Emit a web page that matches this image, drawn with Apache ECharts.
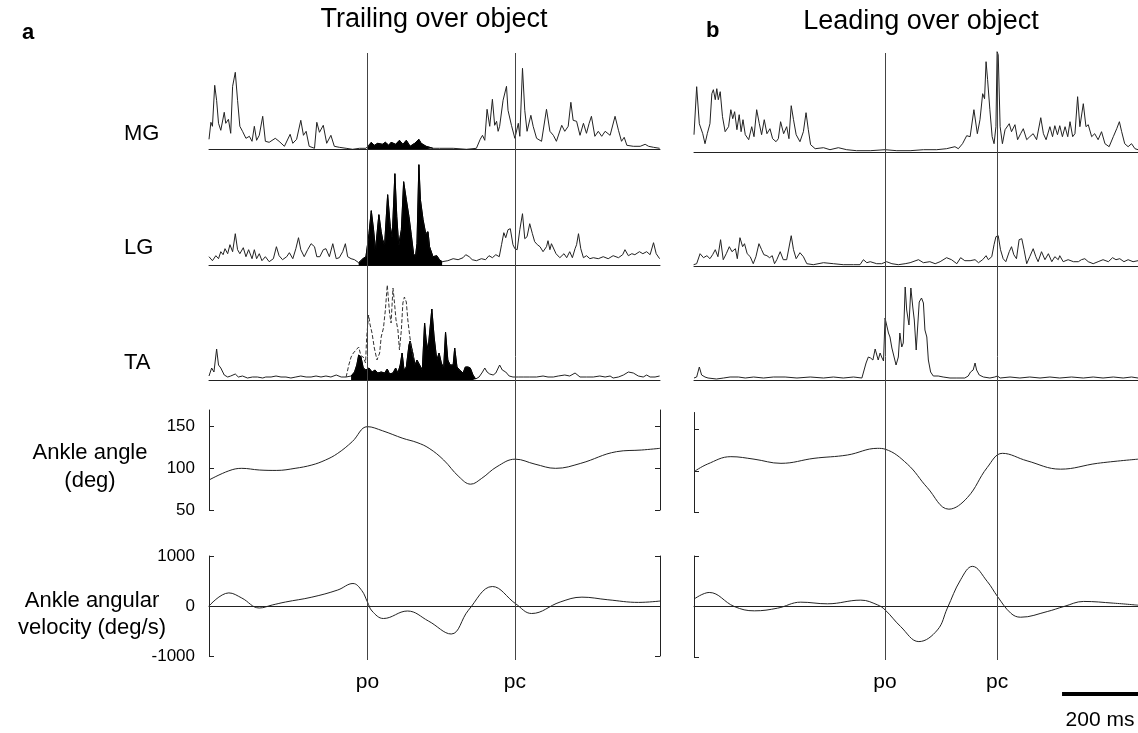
<!DOCTYPE html>
<html>
<head>
<meta charset="utf-8">
<script src="https://cdn.jsdelivr.net/npm/echarts@6/dist/echarts.min.js"></script>
<style>
  html, body { margin: 0; padding: 0; background: #fff; }
  #main { width: 1138px; height: 733px; }
</style>
</head>
<body>
<div id="main"></div>
<script>
// time axis: ms relative to push-off (po)
var trailRange = [-416, 768];
var leadRange = [-503, 666];
var trailEvents = [0, 387];
var leadEvents = [0, 295];
var eventNames = ['po', 'pc'];
var scaleBarMs = 200;

var angleTicks = [50, 100, 150];
var velTicks = [-1000, 0, 1000];

// shaded burst windows (ms) of the trailing leg
var mgTrailBurst = [0, 172];
var lgTrailBurst = [-23, 196];
var taTrailBurst = [-43, 284];

// rectified EMG, [ms, amplitude a.u.]
var mgTrail = [[-416,10],[-411,27],[-407,23],[-401,64],[-396,49],[-391,26],[-385,19],[-376,37],[-372,26],[-365,30],[-359,16],[-354,63],[-347,77],[-341,49],[-335,23],[-328,18],[-319,11],[-310,13],[-303,8],[-297,23],[-291,9],[-284,14],[-275,33],[-268,8],[-258,7],[-242,11],[-232,8],[-218,3],[-203,15],[-196,6],[-186,10],[-175,29],[-168,14],[-161,18],[-153,3],[-139,1],[-133,27],[-126,17],[-116,24],[-107,6],[-96,14],[-87,3],[-74,2],[-56,1],[-39,0],[-21,1],[-4,1],
  [1,2],[10,7],[18,4],[27,6],[39,5],[47,7],[56,4],[62,7],[74,5],[84,9],[93,5],[102,9],[112,3],[124,6],[135,10],[141,6],[154,3],[172,1],
  [189,1],[225,1],[260,0],[286,1],[296,10],[302,14],[308,9],[314,40],[321,23],[328,50],[334,24],[339,28],[343,18],[347,23],[356,49],[365,63],[369,39],[378,24],[387,11],[396,26],[400,13],[407,81],[413,39],[419,18],[429,34],[435,23],[444,11],[457,8],[470,40],[479,18],[488,14],[496,8],[510,24],[518,18],[527,23],[534,47],[540,29],[549,28],[558,14],[567,26],[575,16],[582,26],[588,33],[597,13],[606,18],[615,13],[624,18],[637,14],[650,33],[659,19],[667,8],[674,12],[681,4],[698,3],[716,3],[729,5],[738,3],[751,2],[767,1]];

var lgTrail = [[-416,9],[-407,5],[-398,10],[-391,7],[-385,14],[-379,11],[-374,17],[-367,12],[-361,21],[-354,14],[-347,32],[-341,16],[-335,12],[-326,18],[-319,9],[-312,16],[-303,7],[-297,16],[-291,7],[-284,12],[-277,5],[-268,9],[-258,4],[-247,7],[-239,19],[-232,10],[-223,6],[-212,9],[-205,13],[-196,7],[-188,17],[-181,28],[-175,16],[-166,9],[-157,16],[-148,22],[-139,19],[-133,9],[-125,9],[-116,16],[-109,17],[-100,9],[-91,22],[-82,7],[-74,8],[-65,14],[-58,22],[-52,9],[-43,7],[-34,6],
  [-23,3],[-12,7],[-4,9],[4,32],[10,55],[16,36],[21,16],[30,51],[36,34],[40,26],[45,21],[53,71],[60,39],[65,29],[72,92],[77,49],[82,21],[89,36],[95,84],[102,66],[109,49],[115,31],[121,12],[126,9],[130,22],[135,101],[139,66],[146,46],[153,32],[159,34],[163,19],[172,9],[182,10],[189,6],[196,4],
  [211,5],[225,7],[238,6],[251,8],[258,11],[267,9],[275,6],[286,5],[299,7],[310,6],[319,10],[328,8],[337,11],[346,9],[352,21],[358,33],[363,28],[369,36],[375,37],[382,21],[387,17],[393,16],[400,36],[407,52],[413,27],[419,29],[426,42],[433,32],[439,24],[446,21],[453,19],[461,14],[470,19],[474,25],[479,16],[483,22],[488,24],[495,12],[505,8],[516,12],[523,8],[531,14],[538,8],[545,17],[549,21],[554,32],[560,17],[567,8],[575,10],[584,7],[593,8],[606,7],[619,9],[632,7],[645,10],[659,8],[670,11],[676,16],[685,10],[694,12],[702,11],[714,14],[723,12],[733,14],[742,11],[751,23],[758,12],[767,7]];

var taTrail = [[-416,4],[-409,12],[-403,8],[-396,31],[-391,15],[-385,12],[-376,5],[-367,3],[-359,4],[-347,6],[-339,3],[-328,4],[-315,2],[-302,3],[-289,3],[-275,2],[-267,3],[-253,3],[-240,4],[-227,3],[-214,3],[-201,2],[-188,3],[-175,4],[-161,3],[-148,3],[-135,4],[-122,3],[-109,4],[-96,3],[-82,5],[-69,3],[-56,3],
  [-43,4],[-34,8],[-28,15],[-23,25],[-17,23],[-11,12],[-4,10],[4,12],[12,8],[20,10],[27,7],[36,8],[45,7],[52,11],[58,6],[67,7],[74,12],[80,7],[86,15],[91,27],[96,10],[102,13],[109,35],[112,39],[119,27],[125,15],[130,20],[137,15],[144,10],[150,57],[154,40],[159,30],[163,28],[169,71],[175,43],[182,20],[188,27],[194,17],[200,12],[205,48],[211,20],[217,15],[225,15],[229,32],[235,13],[242,10],[251,7],[257,13],[264,13],[270,12],[277,5],[284,1],
  [293,3],[302,8],[308,12],[314,8],[321,6],[330,5],[337,7],[347,15],[354,10],[363,8],[372,4],[382,3],[396,3],[409,3],[426,3],[444,3],[461,4],[474,3],[488,3],[501,4],[518,5],[531,4],[545,7],[558,3],[575,3],[593,3],[610,4],[624,3],[637,4],[645,2],[659,3],[672,5],[685,8],[698,7],[711,4],[724,3],[733,5],[742,3],[755,3],[767,4]];

// dashed TA trace (second condition) over the trailing burst
var taTrailDashed = [[-56,3],[-49,15],[-43,23],[-37,27],[-30,30],[-23,33],[-17,24],[-11,23],[-5,17],[-2,43],[3,65],[7,55],[12,47],[18,32],[25,20],[32,27],[36,43],[42,52],[47,70],[52,95],[58,67],[62,57],[67,92],[71,77],[75,60],[80,50],[84,30],[89,50],[93,77],[97,83],[102,78],[106,60],[110,47],[115,33],[121,22]];

var mgLead = [[-503,18],[-496,66],[-489,29],[-480,19],[-474,9],[-468,19],[-461,29],[-456,59],[-452,63],[-447,53],[-443,64],[-439,53],[-434,61],[-428,36],[-421,21],[-412,26],[-406,43],[-401,34],[-396,41],[-390,23],[-384,38],[-379,21],[-374,33],[-368,18],[-359,13],[-351,26],[-345,16],[-338,43],[-331,29],[-325,18],[-318,33],[-311,19],[-303,24],[-296,14],[-287,11],[-281,14],[-275,31],[-267,19],[-259,26],[-253,14],[-247,47],[-241,33],[-234,18],[-224,11],[-215,21],[-208,40],[-202,23],[-196,8],[-184,4],[-162,5],[-145,3],[-123,5],[-101,3],[-75,2],[-39,2],[0,3],[31,2],[66,2],[101,3],[136,3],[162,4],[184,6],[193,4],[204,9],[215,17],[224,16],[234,43],[243,19],[250,33],[257,59],[262,54],[266,91],[270,73],[276,43],[282,16],[287,9],[292,26],[295,101],[298,98],[303,26],[309,9],[316,23],[327,29],[333,21],[342,28],[349,13],[357,19],[364,24],[373,13],[381,16],[390,19],[399,13],[410,35],[417,19],[424,13],[434,26],[441,16],[447,27],[454,18],[460,27],[467,16],[474,26],[481,16],[487,31],[494,16],[500,19],[507,56],[513,26],[522,49],[529,26],[535,28],[544,16],[552,19],[561,13],[570,21],[579,9],[590,6],[601,16],[610,24],[617,31],[623,21],[631,9],[640,6],[649,9],[658,4],[666,3]];

var lgLead = [[-504,2],[-496,3],[-487,13],[-478,9],[-469,11],[-461,8],[-454,12],[-447,17],[-440,10],[-433,27],[-426,7],[-418,13],[-410,20],[-403,15],[-394,18],[-389,8],[-382,29],[-375,20],[-370,23],[-363,13],[-355,10],[-347,3],[-340,10],[-332,23],[-325,17],[-319,12],[-311,11],[-304,9],[-297,11],[-291,3],[-285,7],[-276,15],[-268,7],[-259,7],[-247,31],[-241,17],[-234,8],[-224,14],[-215,10],[-206,3],[-189,2],[-162,4],[-136,3],[-110,2],[-83,2],[-66,2],[-57,7],[-48,4],[-39,5],[-22,3],[-9,3],[4,5],[18,3],[35,2],[53,3],[66,4],[88,7],[101,4],[118,5],[132,3],[145,5],[162,9],[175,7],[189,3],[199,9],[210,6],[224,6],[237,7],[246,4],[257,7],[266,11],[272,7],[276,8],[281,10],[287,22],[292,30],[298,31],[304,17],[311,8],[318,5],[327,15],[333,20],[339,12],[346,8],[353,27],[360,28],[366,17],[373,3],[381,10],[390,18],[397,10],[403,5],[412,15],[421,7],[430,13],[439,5],[447,10],[456,7],[460,11],[469,5],[482,7],[496,5],[509,5],[517,7],[526,8],[535,5],[548,3],[561,5],[574,7],[588,5],[599,9],[608,7],[618,8],[629,5],[640,7],[653,5],[666,6]];

var taLead = [[-503,2],[-496,3],[-489,13],[-483,5],[-474,3],[-466,2],[-444,1],[-425,2],[-408,3],[-386,3],[-368,2],[-346,3],[-320,2],[-294,3],[-263,3],[-232,2],[-197,3],[-162,2],[-136,3],[-110,2],[-83,3],[-61,2],[-57,3],[-50,17],[-44,23],[-38,22],[-32,20],[-26,31],[-22,32],[-18,20],[-13,27],[-9,23],[-4,19],[0,62],[4,60],[9,47],[13,43],[18,32],[22,33],[29,15],[35,23],[39,47],[44,33],[48,37],[53,93],[57,70],[63,55],[68,92],[73,73],[77,60],[82,30],[86,28],[90,78],[96,82],[101,77],[105,50],[110,43],[114,20],[120,8],[127,4],[140,4],[153,3],[171,2],[189,2],[210,2],[219,4],[225,8],[232,10],[237,17],[241,10],[248,5],[259,3],[276,2],[289,3],[296,4],[303,2],[329,3],[355,2],[381,3],[408,2],[434,3],[460,2],[491,3],[522,2],[548,3],[574,2],[601,3],[627,2],[649,3],[666,2]];

// ankle angle (deg) and angular velocity (deg/s)
var angleTrail = [[-416,86],[-364,97],[-330,100],[-284,98],[-238,97.5],[-190,100],[-146,104],[-110,110],[-78,118],[-40,132],[0,150],[40,145],[93,136],[130,131],[162,124],[200,110],[240,90],[271,81],[300,88],[340,102],[388,111],[440,105],[494,100],[560,106],[654,120],[720,122],[768,124]];
var angleLead = [[-503,99],[-468,108],[-406,117],[-345,114],[-274,109],[-187,115],[-99,119],[-20,127],[0,126],[59,108],[111,80],[168,54],[217,68],[269,104],[309,121],[374,112],[462,102],[559,109],[666,114]];
var velTrail = [[-416,0],[-364,262],[-330,160],[-284,-40],[-250,20],[-215,80],[-146,177],[-78,320],[-38,450],[-15,310],[0,80],[12,-100],[42,-250],[105,-100],[160,-300],[220,-560],[265,-85],[328,390],[389,45],[431,-150],[506,80],[563,177],[631,125],[712,72],[769,100]];
var velLead = [[-503,146],[-463,278],[-397,0],[-344,-86],[-283,-33],[-222,86],[-152,53],[-64,126],[-20,33],[0,-66],[41,-397],[89,-695],[138,-464],[164,-33],[199,530],[230,795],[269,497],[296,199],[331,-132],[357,-212],[427,-100],[471,0],[523,100],[602,66],[666,26]];

var FONT = 'Liberation Sans, Arial, sans-serif';
var INK = '#222';

var grids = [
  // a: trailing leg
  {left: 209, width: 451, top: 39.3, height: 110},
  {left: 209, width: 451, top: 155.7, height: 110},
  {left: 209, width: 451, top: 270, height: 110},
  {left: 209, width: 451, top: 410, height: 100},
  {left: 209, width: 451, top: 556, height: 100},
  // b: leading leg
  {left: 694, width: 444, top: 42.7, height: 110},
  {left: 694, width: 444, top: 156.7, height: 110},
  {left: 694, width: 444, top: 270, height: 110},
  {left: 694, width: 444, top: 412.5, height: 100},
  {left: 694, width: 444, top: 556, height: 101},
  // po / pc event lines
  {left: 209, width: 451, top: 53, height: 607},
  {left: 694, width: 444, top: 53, height: 607},
  // scale bar
  {left: 694, width: 444, top: 684, height: 20}
];

var xAxes = [];
var yAxes = [];
var series = [];

function addX(gi, range, showLine) {
  xAxes.push({
    type: 'value', gridIndex: gi, min: range[0], max: range[1],
    axisLine: {show: showLine, onZero: true, lineStyle: {color: INK, width: 1}},
    axisTick: {show: false}, axisLabel: {show: false}, splitLine: {show: false}
  });
  return xAxes.length - 1;
}

function addY(opt) {
  yAxes.push(opt);
  return yAxes.length - 1;
}

function trace(xi, yi, data, extra) {
  var s = {
    type: 'line', xAxisIndex: xi, yAxisIndex: yi, data: data,
    symbol: 'none', silent: true,
    lineStyle: {color: INK, width: 1}
  };
  for (var k in extra) s[k] = extra[k];
  return s;
}

function emgPanel(gi, range, data, burst, dashed) {
  var xi = addX(gi, range, true);
  var yi = addY({type: 'value', gridIndex: gi, min: 0, max: 110, show: false});
  series.push(trace(xi, yi, data));
  if (burst) {
    var seg = data.filter(function (p) { return p[0] >= burst[0] && p[0] <= burst[1]; });
    series.push(trace(xi, yi, seg, {
      lineStyle: {color: '#000', width: 1},
      areaStyle: {color: '#000', opacity: 1}
    }));
  }
  if (dashed) {
    series.push(trace(xi, yi, dashed, {lineStyle: {color: '#333', width: 1, type: [4, 2]}}));
  }
}

function vAxis(gi, lim, ticks, pos, labels) {
  return {
    type: 'value', gridIndex: gi, min: lim[0], max: lim[1], position: pos,
    axisLine: {show: true, onZero: false, lineStyle: {color: INK, width: 1}},
    axisTick: {show: true, inside: true, length: 5, customValues: ticks, lineStyle: {color: INK}},
    axisLabel: {
      show: labels, customValues: ticks, margin: 14, fontSize: 17, color: '#000', fontFamily: FONT,
      formatter: function (v) { return String(v); }
    },
    splitLine: {show: false}
  };
}

function kinPanel(gi, range, data, lim, ticks, zeroLine, labels, bracket) {
  var xi = addX(gi, range, zeroLine);
  var yi = addY(vAxis(gi, lim, ticks, 'left', labels));
  if (bracket) addY(vAxis(gi, lim, ticks, 'right', false));
  series.push(trace(xi, yi, data, {smooth: 0.4}));
}

function eventLines(gi, range, events) {
  var xi = addX(gi, range, false);
  var yi = addY({type: 'value', gridIndex: gi, min: 0, max: 1, show: false});
  series.push({
    type: 'line', xAxisIndex: xi, yAxisIndex: yi, data: [], silent: true,
    markLine: {
      symbol: 'none', silent: true, animation: false,
      lineStyle: {color: '#444', width: 1, type: 'solid'},
      label: {show: true, position: 'start', distance: 12, formatter: '{b}', fontSize: 21, color: '#000', fontFamily: FONT},
      data: events.map(function (t, i) { return {name: eventNames[i], xAxis: t}; })
    }
  });
}

emgPanel(0, trailRange, mgTrail, mgTrailBurst);
emgPanel(1, trailRange, lgTrail, lgTrailBurst);
emgPanel(2, trailRange, taTrail, taTrailBurst, taTrailDashed);
kinPanel(3, trailRange, angleTrail, [50, 170], angleTicks, false, true, true);
kinPanel(4, trailRange, velTrail, [-1000, 1000], velTicks, true, true, true);

emgPanel(5, leadRange, mgLead);
emgPanel(6, leadRange, lgLead);
emgPanel(7, leadRange, taLead);
kinPanel(8, leadRange, angleLead, [50, 170], angleTicks, false, false, false);
kinPanel(9, leadRange, velLead, [-1000, 1000], velTicks, true, false, false);

eventLines(10, trailRange, trailEvents);
eventLines(11, leadRange, leadEvents);

// 200 ms scale bar, flush with the right end of the leading-leg axis
var sxi = addX(12, leadRange, false);
var syi = addY({type: 'value', gridIndex: 12, min: 0, max: 2, show: false});
series.push(trace(sxi, syi, [[leadRange[1] - scaleBarMs, 1], [leadRange[1], 1]], {
  lineStyle: {color: '#000', width: 4}
}));

function txt(s, x, y, size, align, bold) {
  return {
    type: 'text', x: x, y: y, silent: true,
    style: {
      text: s, fill: '#000', textAlign: align || 'center', textVerticalAlign: 'middle',
      font: (bold ? 'bold ' : '') + size + 'px ' + FONT
    }
  };
}

var chart = echarts.init(document.getElementById('main'));
chart.setOption({
  animation: false,
  backgroundColor: '#fff',
  grid: grids,
  xAxis: xAxes,
  yAxis: yAxes,
  series: series,
  graphic: [
    txt('a', 22, 33, 22, 'left', true),
    txt('Trailing over object', 434, 20, 27),
    txt('b', 706, 31, 22, 'left', true),
    txt('Leading over object', 921, 22, 27),
    txt('MG', 124, 134, 22, 'left'),
    txt('LG', 124, 248, 22, 'left'),
    txt('TA', 124, 363, 22, 'left'),
    txt('Ankle angle', 90, 453, 22),
    txt('(deg)', 90, 481, 22),
    txt('Ankle angular', 92, 601, 22),
    txt('velocity (deg/s)', 92, 628, 22),
    txt(scaleBarMs + ' ms', 1100, 720, 21)
  ]
});
</script>
</body>
</html>
